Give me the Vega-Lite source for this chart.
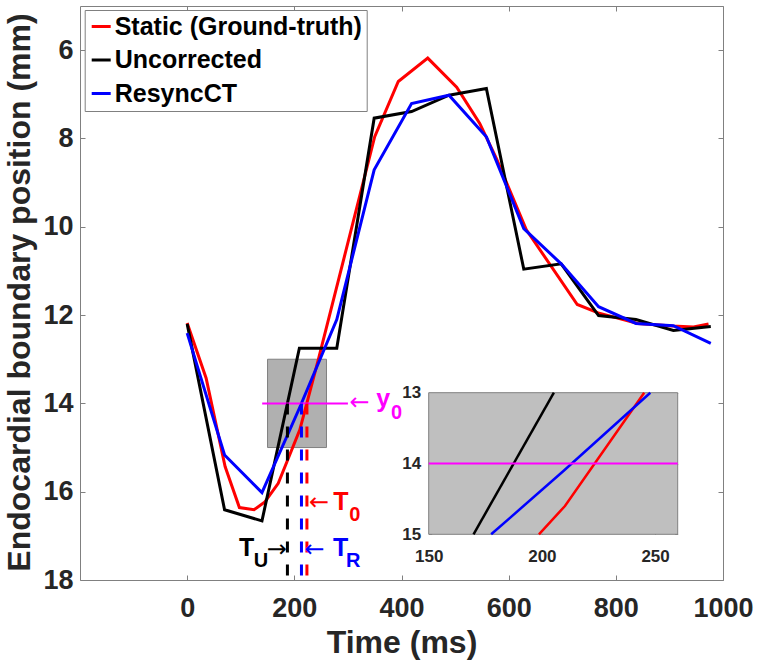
{
  "$schema": "https://vega.github.io/schema/vega-lite/v6.json",
  "width": 643,
  "height": 574,
  "autosize": {"type": "none"},
  "padding": {"left": 80, "top": 6, "right": 34, "bottom": 80},
  "background": "white",
  "config": {
    "view": {"stroke": "#808080", "strokeWidth": 1},
    "axis": {
      "grid": false,
      "format": "d",
      "labelFont": "Liberation Sans",
      "labelFontWeight": "bold",
      "labelFontSize": 27,
      "labelColor": "#262626",
      "titleFont": "Liberation Sans",
      "titleFontWeight": "bold",
      "titleFontSize": 32,
      "titleColor": "#262626",
      "tickColor": "#808080",
      "domainColor": "#808080",
      "labelFlush": false,
      "labelOverlap": false
    }
  },
  "datasets": {
    "curves": [
      {"series": "Static (Ground-truth)", "t": 0, "y": 12.18},
      {"series": "Static (Ground-truth)", "t": 35.4, "y": 13.43},
      {"series": "Static (Ground-truth)", "t": 70.8, "y": 15.43},
      {"series": "Static (Ground-truth)", "t": 97.5, "y": 16.36},
      {"series": "Static (Ground-truth)", "t": 124.8, "y": 16.41},
      {"series": "Static (Ground-truth)", "t": 145, "y": 16.23},
      {"series": "Static (Ground-truth)", "t": 170, "y": 15.81},
      {"series": "Static (Ground-truth)", "t": 210.2, "y": 14.6},
      {"series": "Static (Ground-truth)", "t": 245, "y": 13.0},
      {"series": "Static (Ground-truth)", "t": 350, "y": 7.96},
      {"series": "Static (Ground-truth)", "t": 394, "y": 6.71},
      {"series": "Static (Ground-truth)", "t": 449, "y": 6.18},
      {"series": "Static (Ground-truth)", "t": 503, "y": 6.84},
      {"series": "Static (Ground-truth)", "t": 546, "y": 7.66},
      {"series": "Static (Ground-truth)", "t": 577, "y": 8.45},
      {"series": "Static (Ground-truth)", "t": 633, "y": 10.07},
      {"series": "Static (Ground-truth)", "t": 728, "y": 11.76},
      {"series": "Static (Ground-truth)", "t": 767, "y": 11.95},
      {"series": "Static (Ground-truth)", "t": 841, "y": 12.19},
      {"series": "Static (Ground-truth)", "t": 906, "y": 12.25},
      {"series": "Static (Ground-truth)", "t": 945, "y": 12.27},
      {"series": "Static (Ground-truth)", "t": 973, "y": 12.2},
      {"series": "Uncorrected", "t": 0, "y": 12.2},
      {"series": "Uncorrected", "t": 69.8, "y": 16.41},
      {"series": "Uncorrected", "t": 139.6, "y": 16.66},
      {"series": "Uncorrected", "t": 209.4, "y": 12.75},
      {"series": "Uncorrected", "t": 279.2, "y": 12.75},
      {"series": "Uncorrected", "t": 349, "y": 7.54},
      {"series": "Uncorrected", "t": 418.8, "y": 7.39},
      {"series": "Uncorrected", "t": 488.6, "y": 7.02},
      {"series": "Uncorrected", "t": 558.4, "y": 6.87},
      {"series": "Uncorrected", "t": 628.2, "y": 10.96},
      {"series": "Uncorrected", "t": 698, "y": 10.84},
      {"series": "Uncorrected", "t": 767.8, "y": 12.01},
      {"series": "Uncorrected", "t": 837.6, "y": 12.1},
      {"series": "Uncorrected", "t": 907.4, "y": 12.35},
      {"series": "Uncorrected", "t": 977.2, "y": 12.26},
      {"series": "ResyncCT", "t": 0, "y": 12.41},
      {"series": "ResyncCT", "t": 69.8, "y": 15.17},
      {"series": "ResyncCT", "t": 139.6, "y": 16.02},
      {"series": "ResyncCT", "t": 209.4, "y": 14.11},
      {"series": "ResyncCT", "t": 279.2, "y": 12.1},
      {"series": "ResyncCT", "t": 349, "y": 8.71},
      {"series": "ResyncCT", "t": 418.8, "y": 7.21},
      {"series": "ResyncCT", "t": 488.6, "y": 7.02},
      {"series": "ResyncCT", "t": 558.4, "y": 7.96},
      {"series": "ResyncCT", "t": 628.2, "y": 10.04},
      {"series": "ResyncCT", "t": 698, "y": 10.84},
      {"series": "ResyncCT", "t": 767.8, "y": 11.81},
      {"series": "ResyncCT", "t": 837.6, "y": 12.19},
      {"series": "ResyncCT", "t": 907.4, "y": 12.24},
      {"series": "ResyncCT", "t": 977.2, "y": 12.64}
    ],
    "insetCurves": [
      {"series": "Static (Ground-truth)", "t": 198.7, "y": 15},
      {"series": "Static (Ground-truth)", "t": 210.2, "y": 14.6},
      {"series": "Static (Ground-truth)", "t": 245.2, "y": 13},
      {"series": "Uncorrected", "t": 169.8, "y": 15},
      {"series": "Uncorrected", "t": 205.3, "y": 13},
      {"series": "ResyncCT", "t": 177.6, "y": 15},
      {"series": "ResyncCT", "t": 209.4, "y": 14.11},
      {"series": "ResyncCT", "t": 247.9, "y": 13}
    ],
    "box": [{"x1": 150, "x2": 260, "y1": 13, "y2": 15}],
    "level": [{"name": "y0", "t1": 140, "t2": 300, "y": 14}],
    "insetLevel": [{"name": "y0", "t1": 150, "t2": 260, "y": 14}],
    "dashes": [
      {"name": "TU", "t": 187.1, "y1": 14, "y2": 18},
      {"name": "TR", "t": 213.3, "y1": 14, "y2": 18},
      {"name": "T0", "t": 223.5, "y1": 14, "y2": 18}
    ],
    "labels": [
      {"name": "y0", "part": "arrow", "t": 321.8, "y": 14.0, "text": "←"},
      {"name": "T0", "part": "arrow", "t": 246.3, "y": 16.26, "text": "←"},
      {"name": "TU", "part": "arrow", "t": 167.1, "y": 17.32, "text": "→"},
      {"name": "TR", "part": "arrow", "t": 237.6, "y": 17.32, "text": "←"},
      {"name": "y0", "part": "main", "t": 365.8, "y": 13.9, "text": "y"},
      {"name": "T0", "part": "main", "t": 287, "y": 16.23, "text": "T"},
      {"name": "TU", "part": "main", "t": 111.2, "y": 17.28, "text": "T"},
      {"name": "TR", "part": "main", "t": 286.6, "y": 17.28, "text": "T"},
      {"name": "y0", "part": "sub", "t": 390.7, "y": 14.22, "text": "0"},
      {"name": "T0", "part": "sub", "t": 313, "y": 16.52, "text": "0"},
      {"name": "TU", "part": "sub", "t": 137.5, "y": 17.57, "text": "U"},
      {"name": "TR", "part": "sub", "t": 309.9, "y": 17.57, "text": "R"}
    ]
  },
  "layer": [
    {
      "layer": [
        {
          "data": {"name": "box"},
          "mark": {"type": "rect", "fill": "#b0b0b0", "stroke": "#808080", "strokeWidth": 1},
          "encoding": {
            "x": {"field": "x1", "type": "quantitative",
              "scale": {"domain": [-200, 1000], "nice": false, "zero": false},
              "axis": {"orient": "bottom", "values": [0, 200, 400, 600, 800, 1000], "tickSize": -5, "labelPadding": 20, "domain": false, "title": "Time (ms)", "titleY": 47}},
            "x2": {"field": "x2"},
            "y": {"field": "y1", "type": "quantitative",
              "scale": {"domain": [5, 18], "reverse": true, "nice": false, "zero": false},
              "axis": {"orient": "left", "values": [6, 8, 10, 12, 14, 16, 18], "tickSize": -5, "labelPadding": 12, "domain": false, "title": "Endocardial boundary position (mm)", "titleX": -44, "titleY": 286}},
            "y2": {"field": "y2"}
          }
        },
        {
          "data": {"name": "curves"},
          "mark": {"type": "line", "strokeWidth": 3},
          "encoding": {
            "x": {"field": "t", "type": "quantitative",
              "axis": {"orient": "top", "values": [0, 200, 400, 600, 800, 1000], "tickSize": -5, "labels": false, "domain": false, "title": null}},
            "y": {"field": "y", "type": "quantitative",
              "axis": {"orient": "right", "values": [6, 8, 10, 12, 14, 16, 18], "tickSize": -5, "labels": false, "domain": false, "title": null}},
            "color": {"field": "series", "type": "nominal",
              "scale": {"domain": ["Static (Ground-truth)", "Uncorrected", "ResyncCT"], "range": ["#ff0000", "#000000", "#0000ff"]},
              "legend": {"title": null, "orient": "none", "legendX": 4.7, "legendY": 4, "symbolType": "stroke", "symbolSize": 361, "symbolStrokeWidth": 3, "labelFont": "Liberation Sans", "labelFontWeight": "bold", "labelFontSize": 25, "labelColor": "#000000", "labelLimit": 600, "labelOffset": 1, "strokeColor": "#808080", "fillColor": "#ffffff", "padding": 4, "rowPadding": 7.5}}
          }
        },
        {
          "data": {"name": "level"},
          "mark": {"type": "rule", "strokeWidth": 2},
          "encoding": {
            "x": {"field": "t1", "type": "quantitative", "axis": null},
            "x2": {"field": "t2"},
            "y": {"field": "y", "type": "quantitative", "axis": null},
            "stroke": {"field": "name", "type": "nominal", "scale": {"domain": ["y0", "T0", "TU", "TR"], "range": ["#ff00ff", "#ff0000", "#000000", "#0000ff"]}, "legend": null}
          }
        },
        {
          "data": {"name": "dashes"},
          "mark": {"type": "rule", "strokeWidth": 3, "strokeDash": [11, 12]},
          "encoding": {
            "x": {"field": "t", "type": "quantitative", "axis": null},
            "y": {"field": "y1", "type": "quantitative", "axis": null},
            "y2": {"field": "y2"},
            "stroke": {"field": "name", "type": "nominal", "scale": {"domain": ["y0", "T0", "TU", "TR"], "range": ["#ff00ff", "#ff0000", "#000000", "#0000ff"]}, "legend": null}
          }
        },
        {
          "data": {"name": "labels"},
          "transform": [{"filter": "datum.part === 'arrow'"}],
          "mark": {"type": "text", "font": "DejaVu Sans", "fontSize": 24, "align": "center", "baseline": "middle"},
          "encoding": {
            "x": {"field": "t", "type": "quantitative", "axis": null},
            "y": {"field": "y", "type": "quantitative", "axis": null},
            "text": {"field": "text"},
            "fill": {"field": "name", "type": "nominal", "scale": {"domain": ["y0", "T0", "TU", "TR"], "range": ["#ff00ff", "#ff0000", "#000000", "#0000ff"]}, "legend": null}
          }
        },
        {
          "data": {"name": "labels"},
          "transform": [{"filter": "datum.part === 'main'"}],
          "mark": {"type": "text", "font": "Liberation Sans", "fontWeight": "bold", "fontSize": 25, "align": "center", "baseline": "middle"},
          "encoding": {
            "x": {"field": "t", "type": "quantitative", "axis": null},
            "y": {"field": "y", "type": "quantitative", "axis": null},
            "text": {"field": "text"},
            "fill": {"field": "name", "type": "nominal", "scale": {"domain": ["y0", "T0", "TU", "TR"], "range": ["#ff00ff", "#ff0000", "#000000", "#0000ff"]}, "legend": null}
          }
        },
        {
          "data": {"name": "labels"},
          "transform": [{"filter": "datum.part === 'sub'"}],
          "mark": {"type": "text", "font": "Liberation Sans", "fontWeight": "bold", "fontSize": 20, "align": "center", "baseline": "middle"},
          "encoding": {
            "x": {"field": "t", "type": "quantitative", "axis": null},
            "y": {"field": "y", "type": "quantitative", "axis": null},
            "text": {"field": "text"},
            "fill": {"field": "name", "type": "nominal", "scale": {"domain": ["y0", "T0", "TU", "TR"], "range": ["#ff00ff", "#ff0000", "#000000", "#0000ff"]}, "legend": null}
          }
        }
      ],
      "resolve": {"axis": {"x": "independent", "y": "independent"}}
    },
    {
      "layer": [
        {
          "data": {"name": "box"},
          "mark": {"type": "rect", "fill": "#bfbfbf", "stroke": "#808080", "strokeWidth": 1},
          "encoding": {
            "x": {"field": "x1", "type": "quantitative",
              "scale": {"domain": [150, 260], "range": [348.7, 597.7], "nice": false, "zero": false},
              "axis": {"orient": "bottom", "offset": -45.7, "values": [150, 200, 250], "tickSize": -3, "labelPadding": 17, "labelFontSize": 17, "domain": false, "title": null}},
            "x2": {"field": "x2"},
            "y": {"field": "y1", "type": "quantitative",
              "scale": {"domain": [13, 15], "range": [386.7, 528.3], "nice": false, "zero": false},
              "axis": {"orient": "left", "offset": -348.7, "values": [13, 14, 15], "tickSize": -3, "labelPadding": 11, "labelFontSize": 17, "domain": false, "title": null}},
            "y2": {"field": "y2"}
          }
        },
        {
          "data": {"name": "insetCurves"},
          "mark": {"type": "line", "strokeWidth": 2.5},
          "encoding": {
            "x": {"field": "t", "type": "quantitative",
              "axis": {"orient": "top", "offset": -386.7, "values": [150, 200, 250], "tickSize": -3, "labels": false, "domain": false, "title": null}},
            "y": {"field": "y", "type": "quantitative",
              "axis": {"orient": "right", "offset": -45.3, "values": [13, 14, 15], "tickSize": -3, "labels": false, "domain": false, "title": null}},
            "color": {"field": "series", "type": "nominal",
              "scale": {"domain": ["Static (Ground-truth)", "Uncorrected", "ResyncCT"], "range": ["#ff0000", "#000000", "#0000ff"]},
              "legend": {"title": null, "orient": "none", "legendX": 4.7, "legendY": 4, "symbolType": "stroke", "symbolSize": 361, "symbolStrokeWidth": 3, "labelFont": "Liberation Sans", "labelFontWeight": "bold", "labelFontSize": 25, "labelColor": "#000000", "labelLimit": 600, "labelOffset": 1, "strokeColor": "#808080", "fillColor": "#ffffff", "padding": 4, "rowPadding": 7.5}}
          }
        },
        {
          "data": {"name": "insetLevel"},
          "mark": {"type": "rule", "strokeWidth": 2},
          "encoding": {
            "x": {"field": "t1", "type": "quantitative", "axis": null},
            "x2": {"field": "t2"},
            "y": {"field": "y", "type": "quantitative", "axis": null},
            "stroke": {"field": "name", "type": "nominal", "scale": {"domain": ["y0", "T0", "TU", "TR"], "range": ["#ff00ff", "#ff0000", "#000000", "#0000ff"]}, "legend": null}
          }
        }
      ],
      "resolve": {"axis": {"x": "independent", "y": "independent"}}
    }
  ],
  "resolve": {"scale": {"x": "independent", "y": "independent"}}
}
